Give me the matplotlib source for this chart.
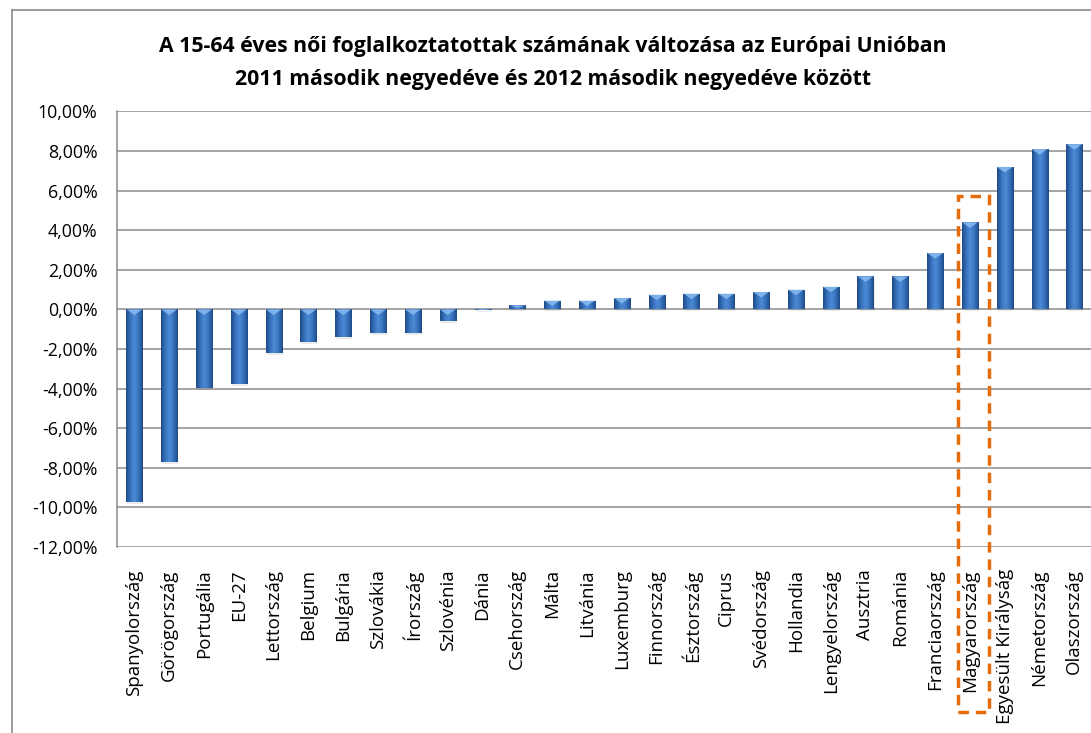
import numpy as np
import matplotlib.pyplot as plt
from matplotlib.patches import Rectangle, Polygon
from matplotlib.colors import LinearSegmentedColormap

plt.rcParams['font.family'] = ['Open Sans', 'DejaVu Sans']

countries = ["Spanyolország", "Görögország", "Portugália", "EU-27", "Lettország",
             "Belgium", "Bulgária", "Szlovákia", "Írország", "Szlovénia", "Dánia",
             "Csehország", "Málta", "Litvánia", "Luxemburg", "Finnország",
             "Észtország", "Ciprus", "Svédország", "Hollandia", "Lengyelország",
             "Ausztria", "Románia", "Franciaország", "Magyarország",
             "Egyesült Királyság", "Németország", "Olaszország"]
change = [-9.75, -7.7, -3.95, -3.75, -2.2, -1.67, -1.4, -1.2, -1.2, -0.6, -0.05,
          0.2, 0.45, 0.45, 0.58, 0.75, 0.8, 0.8, 0.88, 1.0, 1.15, 1.67, 1.67,
          2.85, 4.4, 7.2, 8.1, 8.35]
yticks = np.arange(-12, 11, 2)
highlight = "Magyarország"

fig = plt.figure(figsize=(10.91, 7.33), dpi=100)
ax = fig.add_axes([0.1072, 0.2538, 0.8935, 0.5941])

x = np.arange(len(countries))
ax.set_xlim(-0.5, len(countries) - 0.5)
ax.set_ylim(-12, 10)
ax.set_autoscale_on(False)

# gridlines
for y in yticks:
    ax.axhline(y, color="#8c8c8c", lw=1.1, zorder=1)

# bars with a horizontal gradient (Excel-style)
grad = LinearSegmentedColormap.from_list(
    "bar", ["#1f4a85", "#3672bd", "#4c8ad6", "#3672bd", "#1f4a85"])
img = np.linspace(0, 1, 64).reshape(1, -1)
bars = ax.bar(x, change, width=0.46, color="#3a74bd", zorder=2)
for b in bars:
    x0, y0 = b.get_x(), b.get_y()
    w, h = b.get_width(), b.get_height()
    lo, hi = min(y0, y0 + h), max(y0, y0 + h)
    # soft shadow
    ax.add_patch(Rectangle((x0 + 0.03, lo - 0.1), w, hi - lo, color="#000000",
                           alpha=0.08, lw=0, zorder=1.5))
    im = ax.imshow(img, cmap=grad, aspect="auto", zorder=3,
                   extent=(x0, x0 + w, lo, hi))
    im.set_clip_path(b)
    # light bevel at the top end
    th = min(0.28, (hi - lo) * 0.6)
    ax.add_patch(Polygon([(x0, hi), (x0 + w, hi), (x0 + w / 2, hi - th)],
                         closed=True, color="#8ec0f2", alpha=0.8, lw=0, zorder=3.5))

ax.set_yticks(yticks)
ax.set_yticklabels([f"{v:.2f}%".replace(".", ",") for v in yticks])
ax.set_xticks(x)
ax.set_xticklabels(countries, rotation=90)
ax.tick_params(axis="y", length=0, pad=14, labelsize=12.8, colors="#000000")
ax.tick_params(axis="x", length=0, pad=16, labelsize=13.5)
for s in ["top", "right", "bottom"]:
    ax.spines[s].set_visible(False)
ax.spines["left"].set_color("#8c8c8c")
ax.spines["left"].set_linewidth(1.1)

# dashed box around Hungary
i = countries.index(highlight)
ax.add_patch(Rectangle((i - 0.35, -20.35), 0.89, 26.1, fill=False,
                       edgecolor="#e46c0a", lw=2.5, ls=(0, (3, 2)),
                       clip_on=False, zorder=4))

fig.text(0.507, 0.937, "A 15-64 éves női foglalkoztatottak számának változása az Európai Unióban",
         ha="center", va="center", fontsize=15.3, fontweight="bold")
fig.text(0.507, 0.892, "2011 második negyedéve és 2012 második negyedéve között",
         ha="center", va="center", fontsize=15.3, fontweight="bold")

# outer chart frame
fig.add_artist(plt.Line2D([12 / 1091, 12 / 1091], [0, 1 - 10 / 733],
                          transform=fig.transFigure, color="#8c8c8c", lw=1.2))
fig.add_artist(plt.Line2D([12 / 1091, 1], [1 - 10 / 733, 1 - 10 / 733],
                          transform=fig.transFigure, color="#8c8c8c", lw=1.2))

fig.savefig("out.png", dpi=100)
